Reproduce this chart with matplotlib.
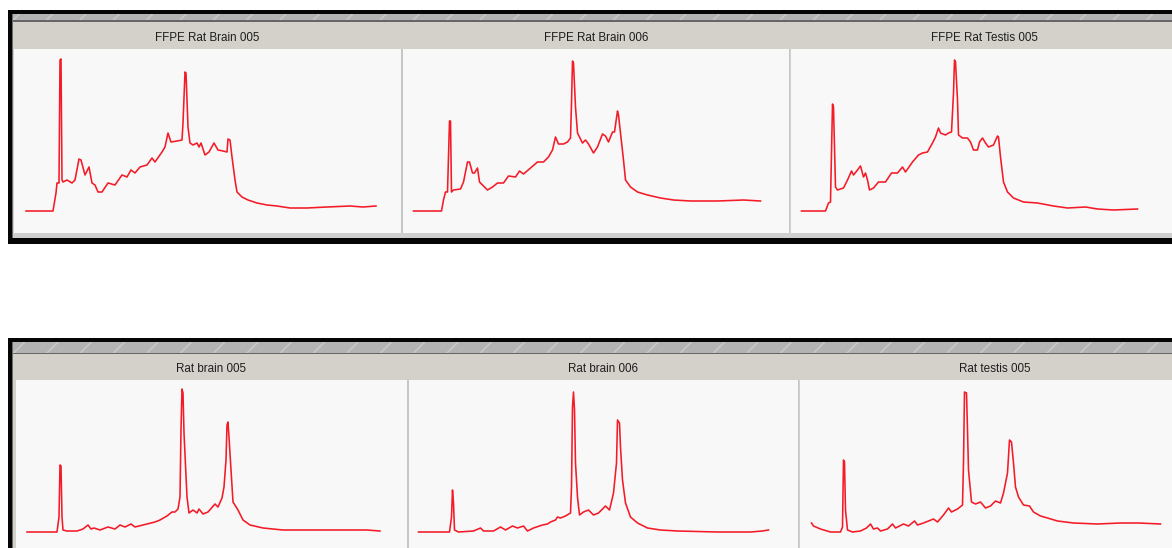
import matplotlib
matplotlib.use("Agg")
import matplotlib.pyplot as plt
from matplotlib.patches import Rectangle

# ---------------- data (time index, fluorescence) ----------------
titles_top = ["FFPE Rat Brain 005", "FFPE Rat Brain 006", "FFPE Rat Testis 005"]
titles_bottom = ["Rat brain 005", "Rat brain 006", "Rat testis 005"]

ffpe_brain005_t = [12, 39, 42, 43, 45, 46, 47, 48, 49, 53, 58, 61, 65, 67, 71, 75, 78, 81, 84, 88,
                   94, 101, 108, 113, 117, 121, 126, 133, 138, 141, 148, 151, 154, 157, 163, 168,
                   169, 171, 172, 174, 176, 179, 183, 185, 187, 191, 195, 200, 204, 209, 213, 214,
                   216, 218, 221, 223, 228, 234, 243, 253, 263, 276, 293, 313, 336, 349, 362]
ffpe_brain005_fu = [24, 24, 42, 52, 52, 175, 176, 55, 53, 55, 52, 55, 76, 75, 60, 68, 52, 50, 43, 43,
                    52, 50, 60, 58, 65, 62, 68, 70, 77, 73, 83, 88, 102, 93, 94, 95,
                    112, 163, 162, 108, 92, 90, 92, 88, 92, 80, 83, 92, 85, 84, 83, 96,
                    95, 78, 55, 43, 38, 35, 32, 30, 29, 27, 27, 28, 29, 28, 29]

ffpe_brain006_t = [11, 39, 41, 43, 45, 47, 48, 49, 51, 58, 61, 65, 67, 70, 72, 75, 77, 80, 85, 90,
                   95, 101, 106, 113, 117, 121, 128, 135, 141, 146, 150, 153, 156, 161, 165, 168,
                   169, 170, 171, 173, 175, 177, 180, 183, 186, 191, 195, 200, 203, 206, 210, 212,
                   215, 216, 218, 221, 223, 228, 235, 245, 258, 271, 288, 315, 341, 358]
ffpe_brain006_fu = [24, 24, 35, 43, 43, 114, 114, 43, 45, 46, 53, 73, 73, 62, 62, 67, 53, 50, 45, 48,
                    52, 52, 59, 58, 64, 61, 67, 73, 73, 78, 85, 98, 91, 91, 93, 97,
                    132, 174, 172, 128, 102, 98, 92, 95, 91, 82, 88, 101, 99, 93, 103, 103,
                    124, 120, 102, 75, 55, 48, 43, 40, 37, 35, 34, 34, 35, 34]

ffpe_testis005_t = [11, 35, 38, 40, 42, 43, 45, 47, 53, 57, 61, 63, 67, 70, 73, 75, 77, 79, 83, 88,
                    95, 101, 107, 112, 115, 122, 128, 132, 137, 142, 145, 148, 150, 155, 158, 161,
                    163, 164, 165, 167, 168, 172, 177, 180, 183, 187, 189, 192, 195, 198, 203, 207,
                    208, 210, 213, 217, 223, 233, 247, 263, 277, 295, 307, 323, 347]
ffpe_testis005_fu = [24, 24, 32, 33, 131, 128, 48, 45, 47, 55, 64, 60, 65, 69, 58, 62, 55, 45, 47, 53,
                     53, 62, 62, 68, 63, 73, 80, 82, 83, 92, 98, 107, 102, 100, 102, 103,
                     142, 175, 173, 135, 100, 97, 97, 93, 85, 85, 93, 97, 92, 88, 90, 99,
                     98, 78, 53, 43, 37, 33, 32, 29, 27, 28, 26, 25, 26]

rat_brain005_t = [11, 41, 43, 44, 45, 46, 47, 51, 61, 67, 72, 75, 78, 84, 92, 99, 104, 109, 115, 119,
                  131, 139, 144, 151, 156, 159, 162, 164, 165, 166, 167, 168, 171, 173, 177, 181,
                  183, 187, 192, 199, 202, 206, 208, 210, 211, 212, 213, 215, 217, 222, 227, 234,
                  247, 267, 301, 334, 351, 364]
rat_brain005_fu = [34, 34, 49, 101, 100, 49, 36, 35, 35, 37, 41, 37, 38, 36, 39, 37, 41, 39, 42, 39,
                   42, 44, 46, 50, 54, 54, 57, 69, 136, 177, 173, 133, 69, 53, 56, 53,
                   57, 52, 54, 62, 59, 68, 79, 106, 141, 144, 129, 96, 64, 56, 46, 41,
                   38, 36, 36, 36, 36, 35]

rat_brain006_t = [10, 41, 43, 44, 45, 46, 50, 65, 72, 75, 85, 92, 97, 104, 109, 115, 119, 125, 134, 139,
                  142, 147, 149, 152, 157, 162, 163, 164, 165, 166, 167, 169, 171, 175, 180, 185,
                  190, 197, 201, 205, 208, 209, 211, 212, 214, 217, 222, 229, 239, 252, 269, 309,
                  342, 354, 360]
rat_brain006_fu = [34, 34, 49, 76, 63, 36, 34, 35, 38, 35, 35, 39, 36, 40, 38, 40, 35, 38, 41, 42,
                   44, 46, 49, 48, 50, 53, 79, 159, 174, 156, 103, 69, 51, 54, 56, 51,
                   53, 60, 56, 73, 103, 146, 143, 119, 86, 63, 49, 43, 38, 36, 35, 34,
                   34, 35, 36]

rat_testis005_t = [12, 14, 21, 31, 41, 43, 44, 45, 46, 48, 53, 61, 67, 71, 74, 78, 81, 88, 93, 96,
                   104, 109, 115, 118, 124, 134, 138, 144, 149, 152, 158, 163, 164, 165, 167, 168,
                   169, 172, 176, 181, 186, 191, 196, 201, 204, 208, 210, 212, 214, 216, 219, 224,
                   230, 234, 241, 248, 258, 274, 298, 321, 339, 361]
rat_testis005_fu = [43, 40, 37, 34, 34, 39, 106, 104, 56, 36, 34, 35, 38, 42, 37, 38, 35, 37, 42, 38,
                    42, 40, 45, 41, 43, 47, 44, 51, 58, 54, 57, 61, 103, 174, 173, 136,
                    96, 64, 62, 64, 58, 60, 65, 63, 73, 93, 126, 124, 103, 79, 69, 61,
                    60, 54, 50, 48, 45, 43, 42, 43, 43, 42]

top_traces = [(ffpe_brain005_t, ffpe_brain005_fu),
              (ffpe_brain006_t, ffpe_brain006_fu),
              (ffpe_testis005_t, ffpe_testis005_fu)]
bottom_traces = [(rat_brain005_t, rat_brain005_fu),
                 (rat_brain006_t, rat_brain006_fu),
                 (rat_testis005_t, rat_testis005_fu)]

# ---------------- layout ----------------
W, H = 1172, 548
plt.rcParams["hatch.linewidth"] = 1.2
fig = plt.figure(figsize=(W / 100, H / 100), dpi=100)
fig.patch.set_facecolor("white")

CHROME = "#d4d1ca"
STRIP = "#b3b3b3"
PANEL_BG = "#f8f8f8"
SEP = "#c6c6c6"
TRACE = "#f41a26"


def rect(x0, y0, x1, y1, color, z=-1, **kw):
    fig.patches.append(Rectangle((x0 / W, 1 - y1 / H), (x1 - x0) / W, (y1 - y0) / H,
                                 transform=fig.transFigure, facecolor=color,
                                 edgecolor=kw.pop("edgecolor", "none"), lw=kw.pop("lw", 0),
                                 zorder=z, **kw))


def frame(top, bottom, strip_end, line_end, inner_left):
    rect(7.5, top, 1190, bottom, "#050505", z=-5)
    rect(inner_left - 1, top + 4, 1190, bottom, "#6a6a6a", z=-4.5)
    rect(inner_left, top + 4, 1190, bottom, CHROME, z=-4)
    rect(inner_left, top + 4, 1190, strip_end, STRIP, z=-3, hatch="/", edgecolor="#c8c8c8")
    rect(inner_left, strip_end, 1190, line_end, "#666666", z=-3)


def panel(x0, x1, y0, y1, data, title, title_y, xmax):
    ax = fig.add_axes([x0 / W, 1 - y1 / H, (x1 - x0) / W, (y1 - y0) / H])
    ax.set_facecolor(PANEL_BG)
    t, fu = data
    ax.plot(t, fu, color=TRACE, lw=1.15, solid_joinstyle="round")
    ax.set_xlim(0, xmax)
    ax.set_ylim(0, y1 - y0)
    ax.set_xticks([])
    ax.set_yticks([])
    for s in ax.spines.values():
        s.set_visible(False)
    fig.text((x0 + x1) / 2 / W, 1 - title_y / H, title, ha="center", va="center",
             fontsize=8.4, color="#1e1e1e", family=["Liberation Sans", "DejaVu Sans"])
    return ax


# top frame
frame(10, 244, 20.3, 21.6, 12.5)
top_edges = [(14, 401), (402.5, 789), (790.5, 1178)]
for (x0, x1), data, ttl in zip(top_edges, top_traces, titles_top):
    panel(x0, x1, 49, 235, data, ttl, 37.8, x1 - x0)
for xs in (401.7, 789.7):
    rect(xs - 0.8, 49, xs + 0.8, 233, SEP, z=3)
rect(12.5, 233, 1190, 238, "#cfcfcf", z=3)
rect(7.5, 238, 1190, 244, "#050505", z=3)

# bottom frame
frame(338, 560, 352.5, 354, 12.5)
bottom_edges = [(16, 407), (408.5, 798), (799.5, 1190)]
for (x0, x1), data, ttl in zip(bottom_edges, bottom_traces, titles_bottom):
    panel(x0, x1, 380, 566, data, ttl, 369.5, x1 - x0)
for xs in (407.7, 798.3):
    rect(xs - 0.8, 380, xs + 0.8, 566, SEP, z=3)

fig.savefig("out.png", dpi=100)
